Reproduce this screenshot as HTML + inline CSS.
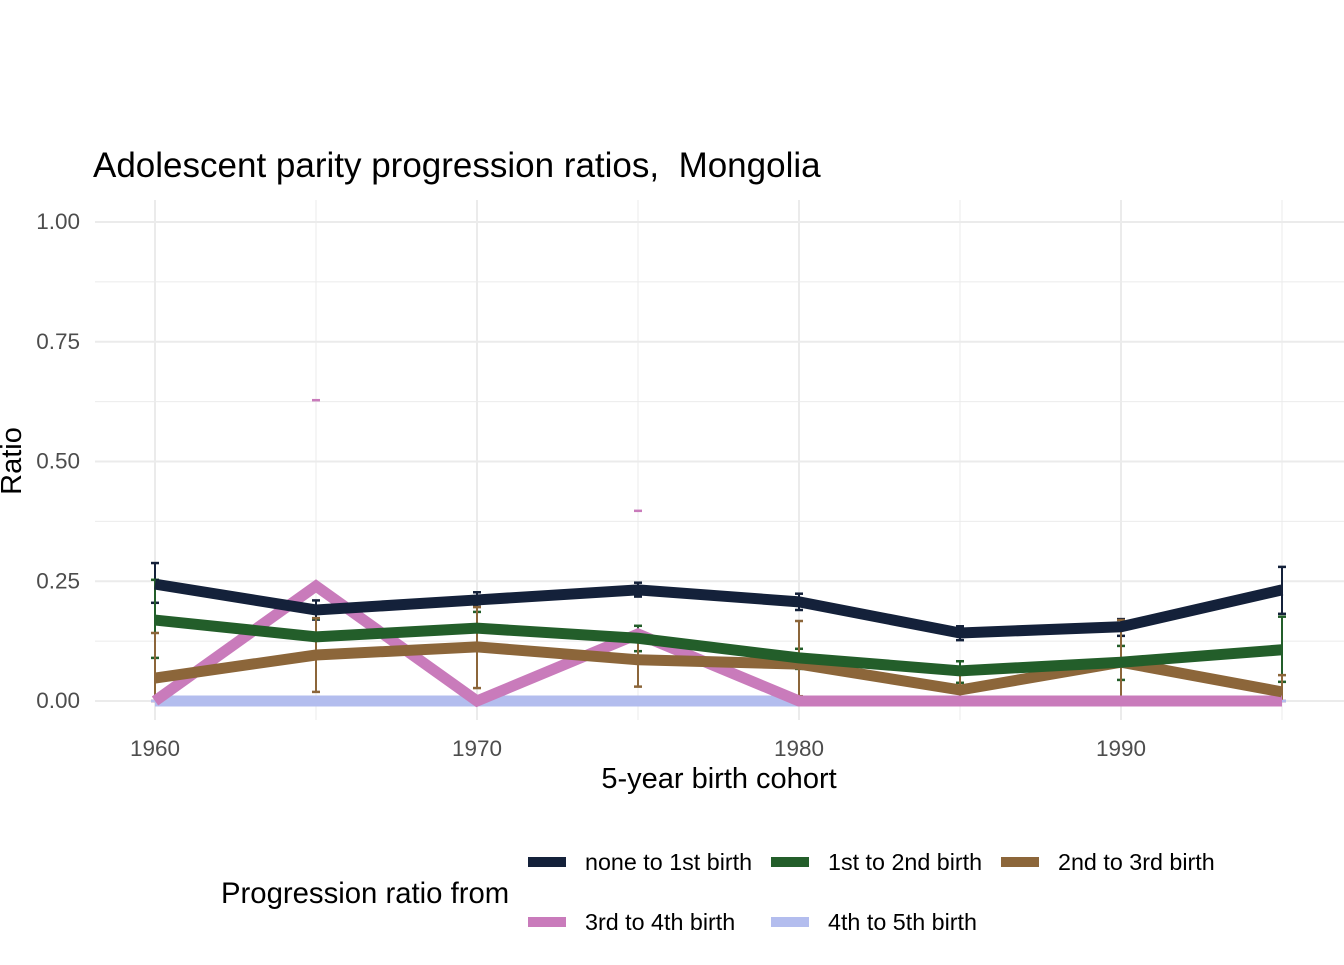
<!DOCTYPE html>
<html><head><meta charset="utf-8"><style>
body{margin:0;background:#fff;}
svg text{font-family:"Liberation Sans",Arial,sans-serif;}
</style></head><body>
<svg id="chart" width="1344" height="960" xmlns="http://www.w3.org/2000/svg">
<rect width="1344" height="960" fill="#fff"/>
<text x="93" y="177" font-size="35" fill="#000">Adolescent parity progression ratios,&#160; Mongolia</text>
<g id="grid"></g>
<g id="errs"></g>
<g id="lines"></g>
<g id="ticks"></g>
<text x="719" y="788" font-size="29" text-anchor="middle">5-year birth cohort</text>
<text transform="translate(21,461) rotate(-90)" font-size="29" text-anchor="middle">Ratio</text>
<text x="221" y="903" font-size="29.3">Progression ratio from</text>
<g id="legend"></g>
</svg>
<script>
const years=[1960,1965,1970,1975,1980,1985,1990,1995];
const seriesNames=["none to 1st birth","1st to 2nd birth","2nd to 3rd birth","3rd to 4th birth","4th to 5th birth"];
const colors=["#14213a","#235e2a","#8c663a","#c97bbb","#b3bdee"];
const none1=[0.244,0.19,0.211,0.232,0.207,0.142,0.155,0.232];
const none1Lo=[0.205,0.17,0.197,0.218,0.19,0.127,0.136,0.182];
const none1Hi=[0.288,0.21,0.227,0.247,0.224,0.156,0.171,0.28];
const first2=[0.169,0.134,0.152,0.131,0.09,0.063,0.081,0.107];
const first2Lo=[0.09,0.096,0.117,0.104,0.067,0.038,0.044,0.04];
const first2Hi=[0.253,0.172,0.186,0.157,0.109,0.083,0.115,0.176];
const second3=[0.048,0.096,0.113,0.086,0.077,0.023,0.081,0.019];
const second3Lo=[0.0,0.019,0.027,0.03,0.01,0.0,0.0,0.0];
const second3Hi=[0.142,0.173,0.196,0.14,0.167,0.065,0.169,0.054];
const third4=[0,0.24,0,0.14,0,0,0,0];
const third4Lo=[0,0,0,0,0,0,0,0];
const third4Hi=[0,0.628,0,0.397,0,0,0,0];
const fourth5=[0,0,0,0,0,0,0,0];
const yTicks=[0,0.25,0.5,0.75,1.0];
const yTickLabels=["0.00","0.25","0.50","0.75","1.00"];
const xTicks=[1960,1970,1980,1990];

const X=v=>155+(v-1960)*32.2;
const Y=v=>701-479*v;
const NS="http://www.w3.org/2000/svg";
function mk(tag,attrs,parent){const e=document.createElementNS(NS,tag);for(const k in attrs)e.setAttribute(k,attrs[k]);parent.appendChild(e);return e;}
const grid=document.getElementById('grid');
for(let i=0;i<=8;i++){const v=i*0.125;
 const l=mk('line',{x1:95,x2:1344,y1:Y(v),y2:Y(v),stroke:'#ebebeb','stroke-width':i%2?1:2},grid);
 
 }
for(let yv=1960;yv<=1995;yv+=5){
 const l=mk('line',{x1:X(yv),x2:X(yv),y1:200,y2:720,stroke:'#ebebeb','stroke-width':yv%10?1:2},grid);
 
 }
const ticks=document.getElementById('ticks');
yTicks.forEach((v,i)=>{const t=mk('text',{x:80,y:Y(v)+7,'font-size':22.5,fill:'#4d4d4d','text-anchor':'end'},ticks);t.textContent=yTickLabels[i];
 
 });
xTicks.forEach(v=>{const t=mk('text',{x:X(v),y:756,'font-size':22.5,fill:'#4d4d4d','text-anchor':'middle'},ticks);t.textContent=v;
 
 });
const vals=[none1,first2,second3,third4,fourth5];
const los=[none1Lo,first2Lo,second3Lo,third4Lo,fourth5];
const his=[none1Hi,first2Hi,second3Hi,third4Hi,fourth5];
const errs=document.getElementById('errs');
for(let s=0;s<5;s++){years.forEach((yr,i)=>{
 const x=X(yr),c=colors[s];
 const g=mk('g',{},errs);
 
 
 if(s<3){
  mk('line',{x1:x,x2:x,y1:Y(los[s][i]),y2:Y(his[s][i]),stroke:c,'stroke-width':2},g);
  mk('line',{x1:x-4,x2:x+4,y1:Y(los[s][i]),y2:Y(los[s][i]),stroke:c,'stroke-width':2.5},g);
 }
 mk('line',{x1:x-4,x2:x+4,y1:Y(his[s][i]),y2:Y(his[s][i]),stroke:c,'stroke-width':2.5},g);
});}
const lines=document.getElementById('lines');
for(let s=4;s>=0;s--){
 const pts=years.map((yr,i)=>X(yr)+','+Y(vals[s][i])).join(' ');
 const p=mk('polyline',{points:pts,fill:'none',stroke:colors[s],'stroke-width':11,'stroke-linejoin':'miter'},lines);
 
 
}
const leg=document.getElementById('legend');
const lpos=[[528,862],[771,862],[1001,862],[528,922],[771,922]];
seriesNames.forEach((n,i)=>{
 const g=mk('g',{},leg);
 
 
 mk('rect',{x:lpos[i][0],y:lpos[i][1]-5,width:38,height:10,fill:colors[i]},g);
 const t=mk('text',{x:lpos[i][0]+57,y:lpos[i][1]+8,'font-size':23.3},g);t.textContent=n;
});
</script>
</body></html>
